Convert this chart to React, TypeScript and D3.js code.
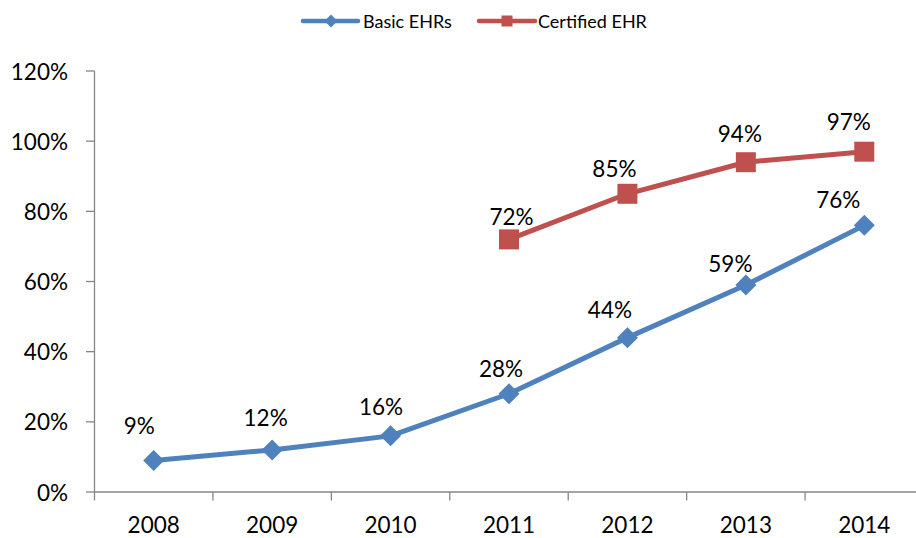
import React from "react";
import * as d3 from "d3";

const years = ["2008", "2009", "2010", "2011", "2012", "2013", "2014"];
const basicEHRs = [9, 12, 16, 28, 44, 59, 76];
const certifiedYears = ["2011", "2012", "2013", "2014"];
const certifiedEHR = [72, 85, 94, 97];
const yTicks = [0, 20, 40, 60, 80, 100, 120];
const seriesNames = ["Basic EHRs", "Certified EHR"];

// manual label nudges (dx, dy from marker), as in the original chart
const basicNudge: [number, number][] = [
  [-14.5, -26], [-6.5, -24], [-9.5, -21], [-8, -17], [-17.5, -20], [-15.5, -13], [-26, -17],
];
const certNudge: [number, number][] = [
  [2.5, -14], [-13, -17], [-6, -20], [-15.5, -22],
];

const W = 916;
const H = 538;
const BLUE = "#4F81BD";
const RED = "#C0504D";
const AXIS = "#868686";
const FONT = "Lato, 'Open Sans', sans-serif";
const FS = 22.5;

export default function App() {
  const x = d3.scaleBand<string>().domain(years).range([94.5, 923.5]).paddingInner(0).paddingOuter(0);
  const y = d3.scaleLinear().domain([0, 120]).range([492, 71]);
  const cx = (yr: string) => (x(yr) as number) + x.bandwidth() / 2;

  const line = d3
    .line<[string, number]>()
    .x((d) => cx(d[0]))
    .y((d) => y(d[1]));

  const basicPts: [string, number][] = years.map((yr, i) => [yr, basicEHRs[i]]);
  const certPts: [string, number][] = certifiedYears.map((yr, i) => [yr, certifiedEHR[i]]);

  const diamond = (px: number, py: number, r: number) =>
    `M${px},${py - r}L${px + r},${py}L${px},${py + r}L${px - r},${py}Z`;

  const tickXs = years.map((yr) => x(yr) as number).concat([x.range()[1]]);

  return (
    <svg
      width={W}
      height={H}
      style={{ position: "absolute", left: 0, top: 0, background: "#fff" }}
      fontFamily={FONT}
    >
      {/* axes */}
      <line x1={94.5} x2={94.5} y1={71} y2={492} stroke={AXIS} strokeWidth={1.3} />
      <line x1={94.5} x2={W} y1={492} y2={492} stroke={AXIS} strokeWidth={1.3} />
      {yTicks.map((t) => (
        <g key={t}>
          <line x1={86} x2={94.5} y1={y(t)} y2={y(t)} stroke={AXIS} strokeWidth={1.3} />
          <text x={68} y={y(t)} textAnchor="end" dominantBaseline="central" fontSize={FS} fill="#000">
            {t}%
          </text>
        </g>
      ))}
      {tickXs.map((tx, i) => (
        <line key={i} x1={tx} x2={tx} y1={492} y2={500.5} stroke={AXIS} strokeWidth={1.3} />
      ))}
      {years.map((yr) => (
        <text key={yr} x={cx(yr)} y={533} textAnchor="middle" fontSize={FS} fill="#000">
          {yr}
        </text>
      ))}

      {/* series lines */}
      <path d={line(basicPts) || ""} fill="none" stroke={BLUE} strokeWidth={5} strokeLinejoin="round" />
      <path d={line(certPts) || ""} fill="none" stroke={RED} strokeWidth={5} strokeLinejoin="round" />

      {/* markers */}
      {basicPts.map((d, i) => (
        <path key={i} d={diamond(cx(d[0]), y(d[1]), 10.5)} fill={BLUE} />
      ))}
      {certPts.map((d, i) => (
        <rect key={i} x={cx(d[0]) - 10} y={y(d[1]) - 10} width={20} height={20} fill={RED} />
      ))}

      {/* data labels */}
      {basicPts.map((d, i) => (
        <text
          key={i}
          x={cx(d[0]) + basicNudge[i][0]}
          y={y(d[1]) + basicNudge[i][1]}
          textAnchor="middle"
          fontSize={FS}
          fill="#000"
        >
          {d[1]}%
        </text>
      ))}
      {certPts.map((d, i) => (
        <text
          key={i}
          x={cx(d[0]) + certNudge[i][0]}
          y={y(d[1]) + certNudge[i][1]}
          textAnchor="middle"
          fontSize={FS}
          fill="#000"
        >
          {d[1]}%
        </text>
      ))}

      {/* legend */}
      <g>
        <line x1={303} x2={358} y1={21} y2={21} stroke={BLUE} strokeWidth={4.5} strokeLinecap="round" />
        <path d={diamond(331, 21, 6.5)} fill={BLUE} />
        <text x={363} y={21} dominantBaseline="central" fontSize={18} fill="#000">
          {seriesNames[0]}
        </text>
        <line x1={479} x2={535} y1={21} y2={21} stroke={RED} strokeWidth={4.5} strokeLinecap="round" />
        <rect x={501.5} y={15.5} width={11} height={11} fill={RED} />
        <text x={538} y={21} dominantBaseline="central" fontSize={18} fill="#000">
          {seriesNames[1]}
        </text>
      </g>
    </svg>
  );
}
